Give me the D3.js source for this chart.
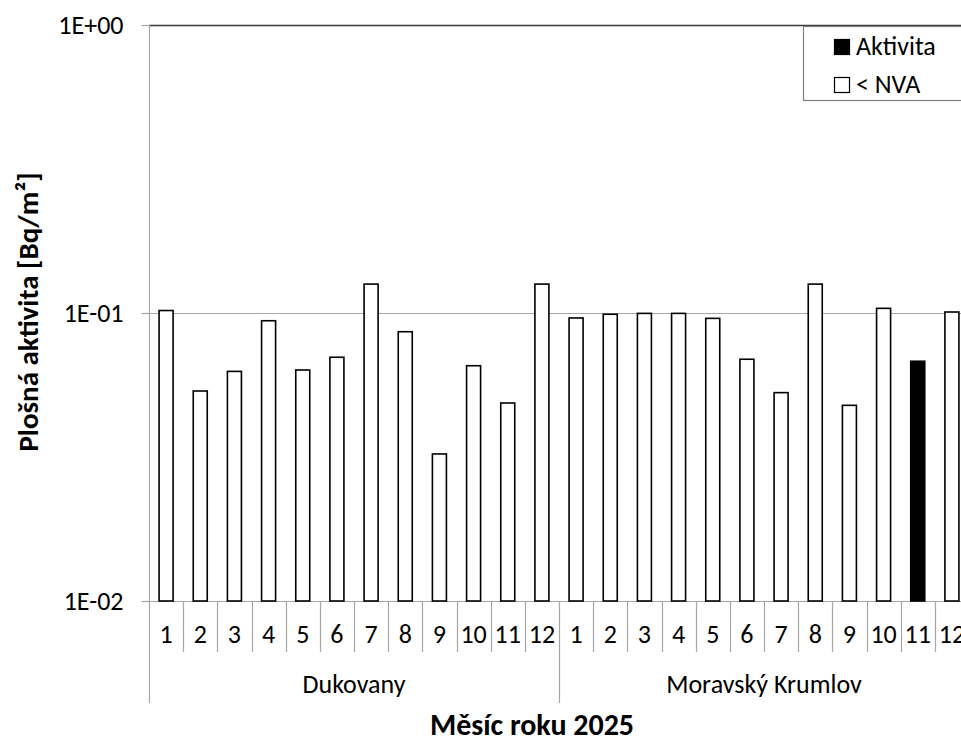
<!DOCTYPE html>
<html>
<head>
<meta charset="utf-8">
<script src="https://cdn.jsdelivr.net/npm/d3@7"></script>
<style>
  html, body { margin: 0; padding: 0; background: #fff; overflow: hidden; }
  svg { display: block; font-family: Carlito, Calibri, Lato, sans-serif; }
</style>
</head>
<body>
<svg id="chart" width="961" height="740"></svg>
<script>
// Monthly surface activity at two monitoring stations, 2025
const months = ["1","2","3","4","5","6","7","8","9","10","11","12"];
const stations = ["Dukovany", "Moravský Krumlov"];
const dukovanyValues = [0.102, 0.0536, 0.0627, 0.094, 0.0634, 0.0702, 0.126, 0.0861, 0.0324, 0.0656, 0.0487, 0.126];
const krumlovValues  = [0.0961, 0.099, 0.0997, 0.0997, 0.0958, 0.0691, 0.0529, 0.126, 0.0478, 0.1038, 0.068, 0.1008];
// "A" = measured activity, "N" = below the minimum detectable activity (< NVA)
const dukovanyKinds = ["N","N","N","N","N","N","N","N","N","N","N","N"];
const krumlovKinds  = ["N","N","N","N","N","N","N","N","N","N","A","N"];
const yTickValues = [0.01, 0.1, 1];
const yTickLabels = ["1E-02", "1E-01", "1E+00"];
const legendLabels = ["Aktivita", "< NVA"];
const legendKinds = ["A", "N"];
const yTitle = "Plošná aktivita [Bq/m²]";
const xTitle = "Měsíc roku 2025";

const rows = [];
[[dukovanyValues, dukovanyKinds], [krumlovValues, krumlovKinds]].forEach(([vals, kinds], s) => {
  months.forEach((m, i) => rows.push({ key: s + "-" + m, station: stations[s], month: m, value: vals[i], kind: kinds[i] }));
});

const svg = d3.select("#chart");
const plotLeft = 149, plotRight = 969, plotTop = 25, plotBottom = 601;
const fontSize = 26;

const x = d3.scaleBand().domain(rows.map(d => d.key)).range([plotLeft, plotRight]).padding(0);
const y = d3.scaleLog().domain([0.01, 1]).range([plotBottom, plotTop]);
const fillOf = k => k === "A" ? "#000" : "#fff";

// gridlines
svg.append("g").selectAll("line").data(yTickValues.slice(1)).join("line")
  .attr("x1", plotLeft).attr("x2", plotRight)
  .attr("y1", d => Math.round(y(d)) + 0.5).attr("y2", d => Math.round(y(d)) + 0.5)
  .attr("stroke", d => d === 1 ? "#3a3a3a" : "#a6a6a6").attr("stroke-width", d => d === 1 ? 1.5 : 1.2);

// y axis
const yAxis = svg.append("g").attr("transform", `translate(${plotLeft + 0.5},0)`)
  .call(d3.axisLeft(y).tickValues(yTickValues).tickFormat((d, i) => yTickLabels[i]).tickSize(8).tickPadding(18));
yAxis.select(".domain").remove();
yAxis.attr("font-family", null).attr("font-size", null);
yAxis.selectAll(".tick line").attr("stroke", "#a6a6a6").attr("stroke-width", 1.2);
yAxis.selectAll(".tick text").attr("font-size", fontSize).attr("fill", "#000");

// vertical axis line, continuing down as the first group separator
svg.append("line").attr("x1", plotLeft + 0.5).attr("x2", plotLeft + 0.5).attr("y1", plotTop).attr("y2", 703)
  .attr("stroke", "#a6a6a6").attr("stroke-width", 1.2);
// horizontal axis line
svg.append("line").attr("x1", plotLeft).attr("x2", plotRight).attr("y1", plotBottom + 0.5).attr("y2", plotBottom + 0.5)
  .attr("stroke", "#a6a6a6").attr("stroke-width", 1.2);

// bars
const barFrac = 0.41;
svg.append("g").selectAll("rect").data(rows).join("rect")
  .attr("x", d => x(d.key) + x.bandwidth() * (1 - barFrac) / 2)
  .attr("width", x.bandwidth() * barFrac)
  .attr("y", d => y(d.value))
  .attr("height", d => plotBottom - y(d.value))
  .attr("fill", d => fillOf(d.kind))
  .attr("stroke", "#000").attr("stroke-width", 1.6);

// month dividers and labels
svg.append("g").selectAll("line").data(rows.filter(d => d.month !== "1")).join("line")
  .attr("x1", d => Math.round(x(d.key)) + 0.5).attr("x2", d => Math.round(x(d.key)) + 0.5)
  .attr("y1", plotBottom).attr("y2", 652)
  .attr("stroke", "#a6a6a6").attr("stroke-width", 1.2);
svg.append("g").selectAll("text").data(rows).join("text")
  .attr("x", d => x(d.key) + x.bandwidth() / 2).attr("y", 643)
  .attr("text-anchor", "middle").attr("font-size", fontSize).text(d => d.month);

// station separators and labels
const firstOf = stations.map(s => rows.find(d => d.station === s).key);
svg.append("g").selectAll("line").data(firstOf.slice(1)).join("line")
  .attr("x1", k => Math.round(x(k)) + 0.5).attr("x2", k => Math.round(x(k)) + 0.5)
  .attr("y1", plotBottom).attr("y2", 703)
  .attr("stroke", "#a6a6a6").attr("stroke-width", 1.2);
svg.append("g").selectAll("text").data(stations).join("text")
  .attr("x", s => {
    const ks = rows.filter(d => d.station === s).map(d => d.key);
    return (x(ks[0]) + x(ks[ks.length - 1]) + x.bandwidth()) / 2;
  })
  .attr("y", 693).attr("text-anchor", "middle").attr("font-size", fontSize).text(s => s);

// axis titles
svg.append("text").attr("x", 532).attr("y", 735).attr("text-anchor", "middle")
  .attr("font-size", 30).attr("font-weight", "bold").text(xTitle);
svg.append("text").attr("transform", "translate(38,312) rotate(-90)").attr("text-anchor", "middle")
  .attr("font-size", 29).attr("font-weight", "bold").text(yTitle);

// legend
const lg = svg.append("g");
lg.append("rect").attr("x", 803.5).attr("y", 26.5).attr("width", 200).attr("height", 74)
  .attr("fill", "#fff").attr("stroke", "#7f7f7f").attr("stroke-width", 1.2);
const items = lg.selectAll("g.item").data(legendLabels).join("g").attr("class", "item")
  .attr("transform", (d, i) => `translate(0,${i * 38})`);
items.append("rect").attr("x", 834.5).attr("y", 39.5).attr("width", 15).attr("height", 15)
  .attr("fill", (d, i) => fillOf(legendKinds[i])).attr("stroke", "#000").attr("stroke-width", 1.2);
items.append("text").attr("x", 856).attr("y", 55).attr("font-size", fontSize).text(d => d);
</script>
</body>
</html>
